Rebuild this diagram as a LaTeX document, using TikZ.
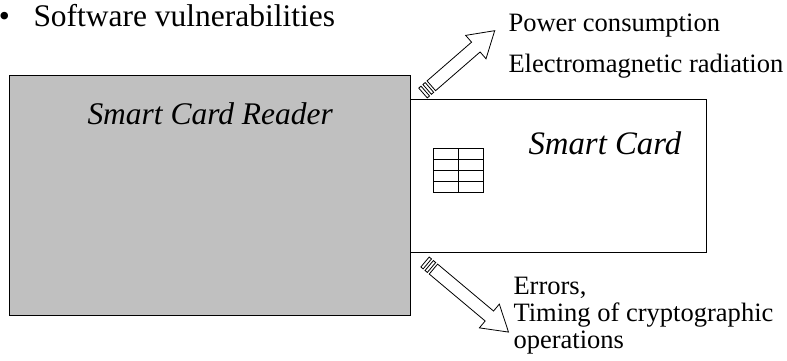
\documentclass[tikz,border=0pt]{standalone}
\usepackage{fontspec}
\setmainfont{Liberation Serif}

\tikzset{every picture/.style={line width=0.75pt}}
\tikzset{
  smalltext/.style={anchor=base west,inner sep=0pt,font=\fontsize{19.9}{24}\selectfont},
  bigtext/.style={anchor=base west,inner sep=0pt,font=\fontsize{23.6}{28}\selectfont},
  bigital/.style={anchor=base west,inner sep=0pt,font=\fontsize{23.6}{28}\selectfont\itshape},
}

% striped block arrow, drawn along the local x axis; #1 = length
\newcommand{\stripedarrow}[1]{%
  \draw [fill=white,line width=0.6pt] (0,-6.5) rectangle (3,6.5) ;
  \draw [fill=white,line width=0.6pt] (5.5,-6.5) rectangle (8.5,6.5) ;
  \draw [fill=white,line width=0.6pt] (11,-6.5) -- (#1-25,-6.5) -- (#1-25,-15.5) -- (#1,0) -- (#1-25,15.5) -- (#1-25,6.5) -- (11,6.5) -- cycle ;
}

\begin{document}
\begin{tikzpicture}[x=0.75pt,y=0.75pt,yscale=-1,xscale=1]
\useasboundingbox (0,0) rectangle (787,360);

%Shape: Rectangle [card]
\draw [fill=white] (380,99) rectangle (706,252) ;
%Shape: Rectangle [reader]
\draw [fill={rgb, 255:red, 192; green, 192; blue, 192 }] (9.5,75) rectangle (410,315) ;

%Shape: Grid [chip]
\draw (433,148) rectangle (483,192) ;
\draw (458,148) -- (458,192) ;
\draw (433,159) -- (483,159) ;
\draw (433,170) -- (483,170) ;
\draw (433,181) -- (483,181) ;

%Shape: Arrows [leakage out, faults in]
\begin{scope}[shift={(423,93)},rotate=-41]
  \stripedarrow{95}
\end{scope}
\begin{scope}[shift={(425,262)},rotate=40]
  \stripedarrow{109}
\end{scope}

% Text Node
\node (bullet) at (4.5,19) {\fontsize{23.6}{28}\selectfont •};
\node (software) [bigtext] at (33,27) {Software vulnerabilities};
% Text Node
\node (readerlabel) [bigital] at (87,124) {Smart Card Reader};
\node (cardlabel) [bigital,font=\fontsize{24.6}{28}\selectfont\itshape] at (528,154) {Smart Card};
% Text Node
\node (power) [smalltext] at (508,32) {Power consumption};
\node (emrad) [smalltext] at (508,72) {Electromagnetic radiation};
% Text Node
\node (errors) [smalltext] at (513,294) {Errors,};
\node (timing) [smalltext] at (513,321) {Timing of cryptographic};
\node (operations) [smalltext] at (513,348) {operations};

\end{tikzpicture}
\end{document}
